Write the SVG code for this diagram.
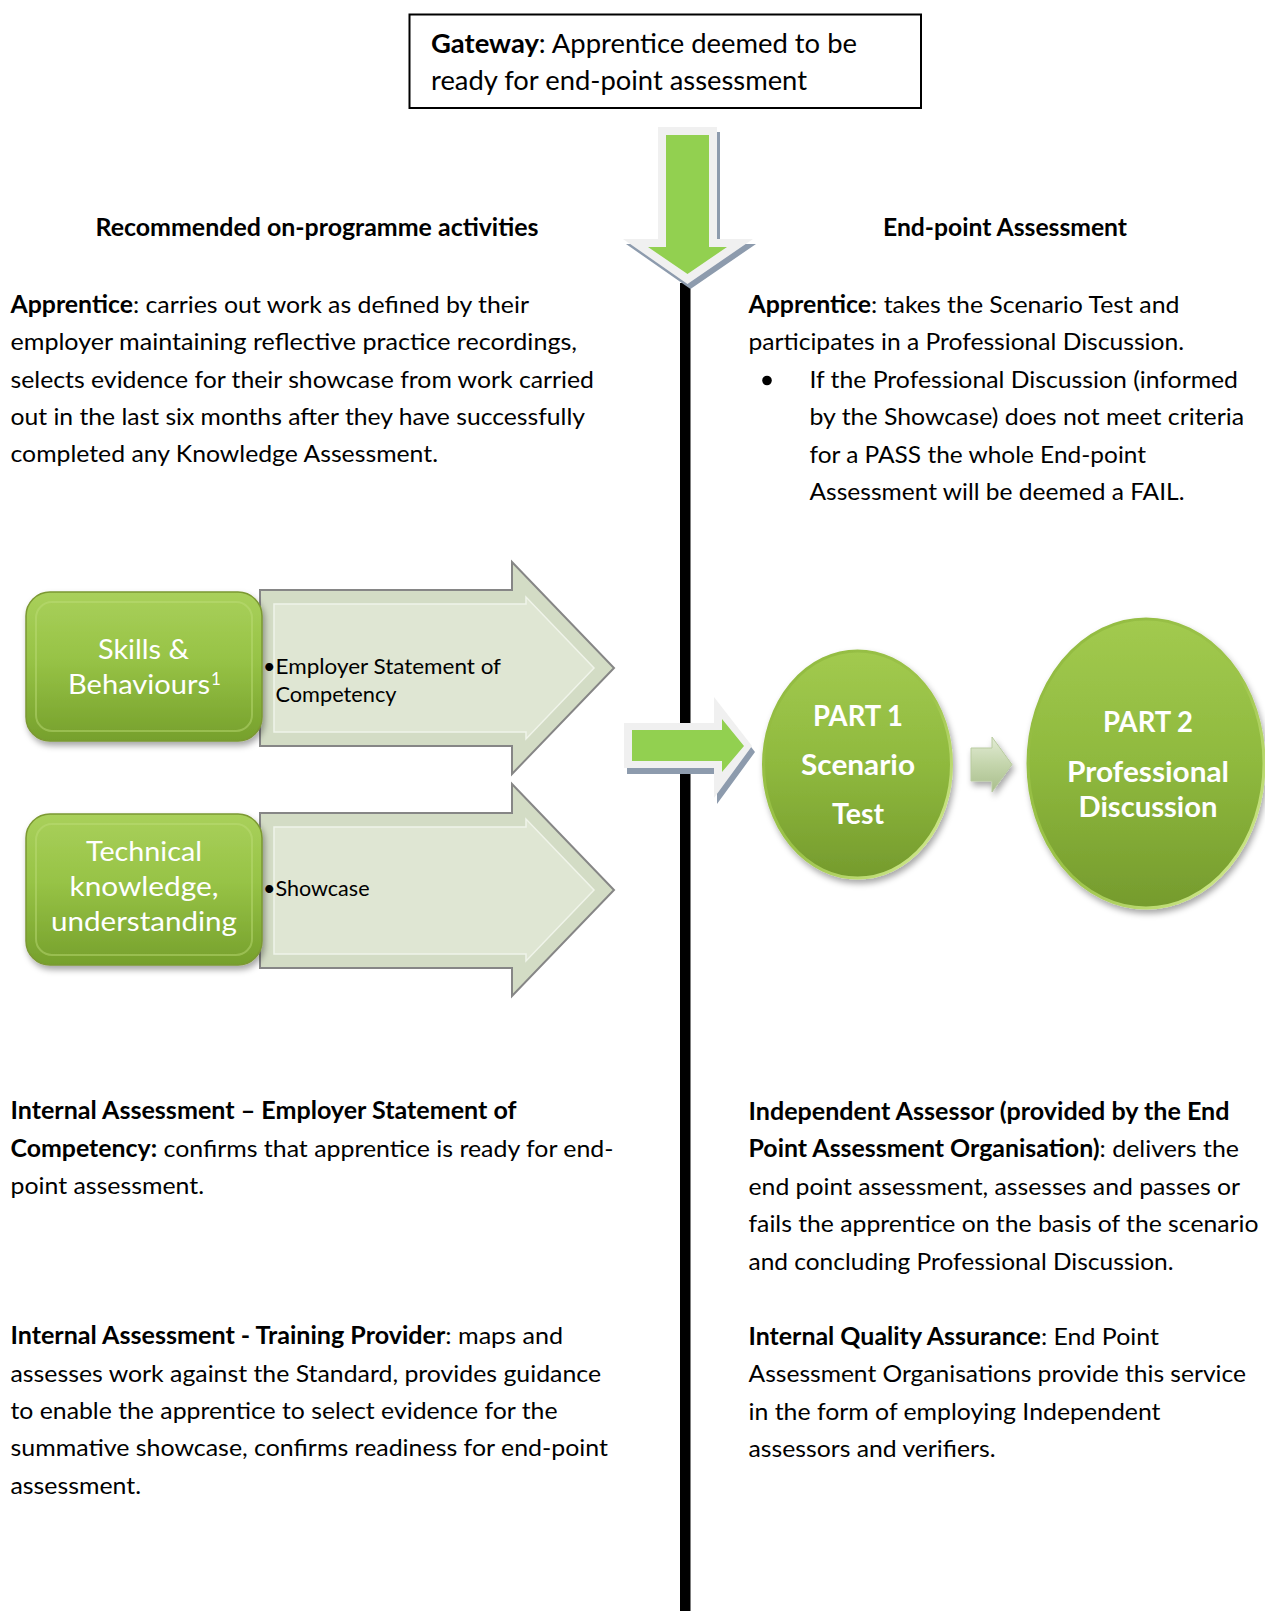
<svg xmlns="http://www.w3.org/2000/svg" width="1265" height="1611" viewBox="0 0 1265 1611">
<style>
text{font-family:Lato,"Open Sans","Liberation Sans",sans-serif;fill:#000;font-size:24px}
.b{font-weight:bold}
.g{font-size:26.5px}
.w{fill:#fff;font-size:27px;text-anchor:middle}
.e{fill:#fff;font-weight:bold;font-size:28.5px;text-anchor:middle}
.s{font-size:21.5px}
.ga{fill:#92D050}
.gb{fill:#F0F0F0}
.gs{fill:#8D9BAD}
.la{fill:#D3DCC5;stroke:#868686;stroke-width:2}
.lf{fill:#DFE6D3;stroke:#F0F4EA;stroke-width:1.5}
.gr{fill:url(#rg);stroke:#7B9832;stroke-width:1.5}
.gri{fill:none;stroke:#BEDD7A;stroke-width:2;opacity:.45}
.el{fill:url(#eg);stroke:url(#rim);stroke-width:3}
</style>
<defs>
<linearGradient id="rg" x1="0" y1="0" x2="0" y2="1">
<stop offset="0" stop-color="#A9D05B"/>
<stop offset="0.45" stop-color="#97C346"/>
<stop offset="1" stop-color="#76A02C"/>
</linearGradient>
<linearGradient id="eg" x1="0" y1="0" x2="0" y2="1">
<stop offset="0" stop-color="#A2CA4F"/>
<stop offset="0.5" stop-color="#8FB93E"/>
<stop offset="1" stop-color="#759B2D"/>
</linearGradient>
<linearGradient id="rim" x1="0" y1="0" x2="1" y2="1">
<stop offset="0" stop-color="#90B93F"/>
<stop offset="0.55" stop-color="#9DC44A"/>
<stop offset="1" stop-color="#DDF29E"/>
</linearGradient>
<linearGradient id="sa" x1="0" y1="0" x2="0" y2="1">
<stop offset="0" stop-color="#E2EBD5"/>
<stop offset="0.5" stop-color="#C4D5AC"/>
<stop offset="1" stop-color="#A9BE8C"/>
</linearGradient>
<filter id="sh" x="-10%" y="-10%" width="130%" height="130%">
<feDropShadow dx="2" dy="4" stdDeviation="3" flood-color="#000" flood-opacity="0.35"/>
</filter>
</defs>
<rect width="1265" height="1611" fill="#fff"/>

<g id="connectors">
<rect x="680" y="283" width="10.5" height="1328" fill="#000"/>
<g id="arrow-down">
<path class="gs" d="M661,132 H720 V244 H756 L690.5,289 L626,244 H661 Z"/>
<path class="gb" d="M658,127 H717 V239 H753 L687.5,284 L623,239 H658 Z"/>
<path class="ga" d="M666,135 H709 V247 H727 L687.5,274 L648,247 H666 Z"/>
</g>
<g id="arrow-right">
<path class="gs" d="M627,729 H717 V703 L755,752 L717,804 V774 H627 Z"/>
<path class="gb" d="M624,723 H714 V697 L752,746 L714,798 V768 H624 Z"/>
<path class="ga" d="M632,730 H722 V719 L744,746 L722,772 V761 H632 Z"/>
</g>
<g id="arrow-small">
<path d="M971,748 H992 V737 L1012,764.5 L992,792 V781 H971 Z" fill="url(#sa)" stroke="#B9CBA0" stroke-width="1" filter="url(#sh)"/>
</g>
</g>

<g id="gateway">
<rect x="409.5" y="14.5" width="511.5" height="93.5" fill="#fff" stroke="#000" stroke-width="2"/>
<text class="g" x="431" y="53" textLength="426" lengthAdjust="spacingAndGlyphs"><tspan class="b">Gateway</tspan>: Apprentice deemed to be</text>
<text class="g" x="431" y="90" textLength="376" lengthAdjust="spacingAndGlyphs">ready for end-point assessment</text>
</g>

<g id="heading-left">
<text class="b" x="95.5" y="236" textLength="443" lengthAdjust="spacingAndGlyphs">Recommended on-programme activities</text>
</g>
<g id="heading-right">
<text class="b" x="883" y="236" textLength="244" lengthAdjust="spacingAndGlyphs">End-point Assessment</text>
</g>

<g id="text-apprentice-left">
<text x="10.5" y="312.5" textLength="518.5" lengthAdjust="spacingAndGlyphs"><tspan class="b">Apprentice</tspan>: carries out work as defined by their</text>
<text x="10.5" y="350" textLength="566.5" lengthAdjust="spacingAndGlyphs">employer maintaining reflective practice recordings,</text>
<text x="10.5" y="387.5" textLength="583.5" lengthAdjust="spacingAndGlyphs">selects evidence for their showcase from work carried</text>
<text x="10.5" y="424.5" textLength="574.5" lengthAdjust="spacingAndGlyphs">out in the last six months after they have successfully</text>
<text x="10.5" y="462" textLength="427.5" lengthAdjust="spacingAndGlyphs">completed any Knowledge Assessment.</text>
</g>

<g id="text-apprentice-right">
<text x="748.5" y="312.5" textLength="431" lengthAdjust="spacingAndGlyphs"><tspan class="b">Apprentice</tspan>: takes the Scenario Test and</text>
<text x="748.5" y="350" textLength="435.5" lengthAdjust="spacingAndGlyphs">participates in a Professional Discussion.</text>
<circle cx="767" cy="380.5" r="4.8" fill="#000"/>
<text x="809.5" y="387.5" textLength="428.5" lengthAdjust="spacingAndGlyphs">If the Professional Discussion (informed</text>
<text x="809.5" y="425" textLength="434.5" lengthAdjust="spacingAndGlyphs">by the Showcase) does not meet criteria</text>
<text x="809.5" y="462.5" textLength="336.5" lengthAdjust="spacingAndGlyphs">for a PASS the whole End-point</text>
<text x="809.5" y="500" textLength="375" lengthAdjust="spacingAndGlyphs">Assessment will be deemed a FAIL.</text>
</g>

<g id="arrow-employer">
<path class="la" d="M260,590 H512 V562 L614,668 L512,774 V746 H260 Z"/>
<path class="lf" d="M274,604 H526 V597 L594,668 L526,739 V732 H274 Z"/>
<text class="s" x="263" y="674">•</text>
<text class="s" x="275.5" y="674" textLength="225.5" lengthAdjust="spacingAndGlyphs">Employer Statement of</text>
<text class="s" x="275.5" y="702" textLength="121" lengthAdjust="spacingAndGlyphs">Competency</text>
</g>

<g id="arrow-showcase">
<path class="la" d="M260,813 H512 V784 L614,890 L512,996 V968 H260 Z"/>
<path class="lf" d="M274,827 H526 V819 L594,890 L526,961 V954 H274 Z"/>
<text class="s" x="263" y="896">•</text>
<text class="s" x="275.5" y="896" textLength="94" lengthAdjust="spacingAndGlyphs">Showcase</text>
</g>

<g id="node-skills">
<rect class="gr" x="26" y="592" width="236" height="149" rx="24" filter="url(#sh)"/>
<rect class="gri" x="36" y="602" width="216" height="129" rx="16"/>
<text class="w" x="143.5" y="659" textLength="91" lengthAdjust="spacingAndGlyphs">Skills &amp;</text>
<text class="w" x="68" y="694" style="text-anchor:start"><tspan textLength="142" lengthAdjust="spacingAndGlyphs">Behaviours</tspan><tspan x="211" y="685" font-size="17">1</tspan></text>
</g>

<g id="node-technical">
<rect class="gr" x="26" y="814" width="236" height="151" rx="24" filter="url(#sh)"/>
<rect class="gri" x="36" y="824" width="216" height="131" rx="16"/>
<text class="w" x="144" y="861" textLength="116" lengthAdjust="spacingAndGlyphs">Technical</text>
<text class="w" x="144" y="896" textLength="149" lengthAdjust="spacingAndGlyphs">knowledge,</text>
<text class="w" x="144" y="931" textLength="186" lengthAdjust="spacingAndGlyphs">understanding</text>
</g>

<g id="node-part1">
<ellipse class="el" cx="857.5" cy="764.5" rx="94" ry="113.5" filter="url(#sh)"/>
<text class="e" x="858" y="725.5" textLength="90" lengthAdjust="spacingAndGlyphs">PART 1</text>
<text class="e" x="858" y="775" textLength="114" lengthAdjust="spacingAndGlyphs">Scenario</text>
<text class="e" x="858" y="824" textLength="52" lengthAdjust="spacingAndGlyphs">Test</text>
</g>

<g id="node-part2">
<ellipse class="el" cx="1146" cy="763.5" rx="118" ry="144.5" filter="url(#sh)"/>
<text class="e" x="1148" y="731.5" textLength="90" lengthAdjust="spacingAndGlyphs">PART 2</text>
<text class="e" x="1148" y="782" textLength="162" lengthAdjust="spacingAndGlyphs">Professional</text>
<text class="e" x="1148" y="817" textLength="139" lengthAdjust="spacingAndGlyphs">Discussion</text>
</g>

<g id="text-internal-employer">
<text x="10.5" y="1119" textLength="506" lengthAdjust="spacingAndGlyphs" class="b">Internal Assessment – Employer Statement of</text>
<text x="10.5" y="1156.5" textLength="603" lengthAdjust="spacingAndGlyphs"><tspan class="b">Competency:</tspan> confirms that apprentice is ready for end-</text>
<text x="10.5" y="1194" textLength="193.5" lengthAdjust="spacingAndGlyphs">point assessment.</text>
</g>

<g id="text-internal-provider">
<text x="10.5" y="1344" textLength="552.5" lengthAdjust="spacingAndGlyphs"><tspan class="b">Internal Assessment - Training Provider</tspan>: maps and</text>
<text x="10.5" y="1381.5" textLength="590.5" lengthAdjust="spacingAndGlyphs">assesses work against the Standard, provides guidance</text>
<text x="10.5" y="1419" textLength="547" lengthAdjust="spacingAndGlyphs">to enable the apprentice to select evidence for the</text>
<text x="10.5" y="1456" textLength="597.5" lengthAdjust="spacingAndGlyphs">summative showcase, confirms readiness for end-point</text>
<text x="10.5" y="1493.5" textLength="130.5" lengthAdjust="spacingAndGlyphs">assessment.</text>
</g>

<g id="text-independent-assessor">
<text x="748.5" y="1119.5" textLength="481" lengthAdjust="spacingAndGlyphs" class="b">Independent Assessor (provided by the End</text>
<text x="748.5" y="1157" textLength="490.5" lengthAdjust="spacingAndGlyphs"><tspan class="b">Point Assessment Organisation)</tspan>: delivers the</text>
<text x="748.5" y="1194.5" textLength="491.5" lengthAdjust="spacingAndGlyphs">end point assessment, assesses and passes or</text>
<text x="748.5" y="1232" textLength="510" lengthAdjust="spacingAndGlyphs">fails the apprentice on the basis of the scenario</text>
<text x="748.5" y="1269.5" textLength="425" lengthAdjust="spacingAndGlyphs">and concluding Professional Discussion.</text>
</g>

<g id="text-quality-assurance">
<text x="748.5" y="1344.5" textLength="410.5" lengthAdjust="spacingAndGlyphs"><tspan class="b">Internal Quality Assurance</tspan>: End Point</text>
<text x="748.5" y="1382" textLength="497.5" lengthAdjust="spacingAndGlyphs">Assessment Organisations provide this service</text>
<text x="748.5" y="1419.5" textLength="412" lengthAdjust="spacingAndGlyphs">in the form of employing Independent</text>
<text x="748.5" y="1457" textLength="247" lengthAdjust="spacingAndGlyphs">assessors and verifiers.</text>
</g>
</svg>
